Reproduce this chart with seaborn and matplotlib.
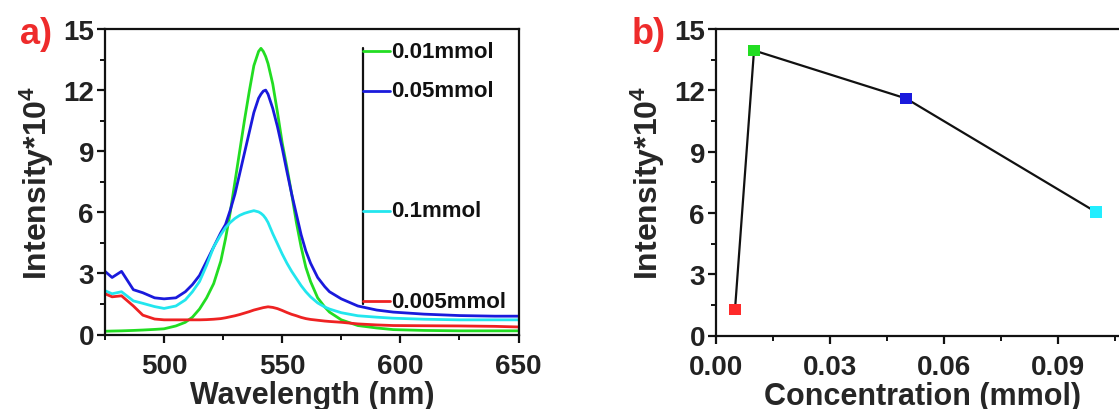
import matplotlib
matplotlib.use("Agg")
import matplotlib.pyplot as plt
from matplotlib.ticker import MultipleLocator
import seaborn as sns
import pandas as pd

# ---------------- data ----------------
wavelength = [475, 478, 482, 487, 491, 496, 500, 505, 509,
              512, 515, 518, 521, 524, 526, 528, 530, 532, 534, 536, 538,
              540, 541, 542, 543, 544, 546, 548, 550,
              552, 554, 556, 558, 560, 562, 565, 568, 570,
              575, 582, 590, 597, 610, 625, 640, 650]
int_001 = [0.16, 0.17, 0.18, 0.20, 0.22, 0.25, 0.28, 0.42, 0.60,
           0.85, 1.25, 1.8, 2.5, 3.6, 4.7, 6.0, 7.5, 9.0, 10.5, 11.9, 13.2,
           13.9, 14.05, 13.9, 13.65, 13.3, 12.3, 10.9, 9.4,
           8.2, 6.9, 5.5, 4.3, 3.3, 2.6, 1.8, 1.35, 1.1,
           0.72, 0.44, 0.32, 0.24, 0.20, 0.18, 0.18, 0.18]
int_005 = [3.1, 2.8, 3.1, 2.2, 2.05, 1.8, 1.75, 1.8, 2.1,
           2.45, 2.9, 3.6, 4.3, 5.0, 5.4, 6.1, 6.9, 7.9, 8.9, 9.9, 10.9,
           11.6, 11.8, 11.95, 12.0, 11.8, 11.1, 10.2, 9.15,
           8.0, 6.9, 5.9, 4.9, 4.1, 3.5, 2.8, 2.35, 2.1,
           1.75, 1.4, 1.2, 1.1, 1.0, 0.93, 0.9, 0.9]
int_01 = [2.15, 2.0, 2.1, 1.65, 1.53, 1.37, 1.28, 1.4, 1.7,
          2.1, 2.6, 3.4, 4.3, 4.9, 5.25, 5.5, 5.7, 5.85, 5.95, 6.02, 6.08,
          6.02, 5.95, 5.85, 5.7, 5.5, 4.95, 4.45, 3.95,
          3.5, 3.1, 2.75, 2.4, 2.1, 1.85, 1.55, 1.35, 1.25,
          1.07, 0.92, 0.85, 0.8, 0.75, 0.72, 0.72, 0.72]
int_0005 = [2.0, 1.85, 1.9, 1.4, 0.95, 0.76, 0.72, 0.72, 0.72,
            0.72, 0.72, 0.73, 0.75, 0.78, 0.82, 0.87, 0.92, 0.98, 1.05, 1.12, 1.2,
            1.26, 1.29, 1.32, 1.34, 1.36, 1.33, 1.27, 1.18,
            1.08, 0.99, 0.92, 0.84, 0.78, 0.74, 0.70, 0.66, 0.64,
            0.60, 0.52, 0.47, 0.44, 0.43, 0.42, 0.40, 0.37]

series_labels = ["0.01mmol", "0.05mmol", "0.1mmol", "0.005mmol"]
series_colors = ["#22dd22", "#1a1adc", "#22e6ee", "#ee2222"]
legend_levels = [13.9, 11.98, 6.07, 1.64]

concentration = [0.005, 0.01, 0.05, 0.1]
peak_intensity = [1.27, 13.95, 11.6, 6.04]
point_labels = ["0.005mmol", "0.01mmol", "0.05mmol", "0.1mmol"]
point_colors = ["#ff2a2a", "#22dd22", "#1a1adc", "#22eeff"]

# ---------------- style ----------------
sns.set_theme(style="ticks")
plt.rcParams["font.family"] = ["Liberation Sans", "DejaVu Sans"]
plt.rcParams["font.weight"] = "bold"
plt.rcParams["axes.labelweight"] = "bold"
plt.rcParams["mathtext.fontset"] = "custom"
plt.rcParams["mathtext.rm"] = "Liberation Sans:bold"
plt.rcParams["mathtext.it"] = "Liberation Sans:bold"
plt.rcParams["mathtext.bf"] = "Liberation Sans:bold"

TICK_FS = 20
LAB_FS = 22
YLAB_FS = 23
W, H = 1119, 410

fig = plt.figure(figsize=(W / 100, H / 100), dpi=100)
axA = fig.add_axes([105 / W, 1 - 335.5 / H, (518.5 - 105) / W, (335.5 - 30) / H])
axB = fig.add_axes([716 / W, 1 - 336.5 / H, (1128 - 716) / W, (336.5 - 30) / H])

# ---------------- panel a ----------------
df = pd.DataFrame({
    "Wavelength": wavelength * 4,
    "Intensity": int_001 + int_005 + int_01 + int_0005,
    "Series": sum([[s] * len(wavelength) for s in series_labels], []),
})
sns.lineplot(data=df, x="Wavelength", y="Intensity", hue="Series",
             palette=dict(zip(series_labels, series_colors)), ax=axA,
             linewidth=2.0, legend=False, sort=False)

axA.set_xlim(475, 650)
axA.set_ylim(0, 15)
axA.xaxis.set_major_locator(MultipleLocator(50))
axA.xaxis.set_minor_locator(MultipleLocator(25))
axA.yaxis.set_major_locator(MultipleLocator(3))
axA.yaxis.set_minor_locator(MultipleLocator(1.5))
axA.set_xlabel("Wavelength (nm)", fontsize=LAB_FS, fontweight="bold", labelpad=1)
axA.set_ylabel("Intensity*10$^{4}$", fontsize=YLAB_FS, fontweight="bold", labelpad=5)

# Origin-style legend with vertical bar
axA.plot([584.4, 584.4], [1.48, 14.07], color="#111111", lw=1.6)
for lab, col, lev in zip(series_labels, series_colors, legend_levels):
    axA.plot([584.4, 595.5], [lev, lev], color=col, lw=2.0)
    axA.text(596.3, lev, lab, fontsize=16, fontweight="bold", va="center", ha="left",
             color="#111111")

# ---------------- panel b ----------------
dfb = pd.DataFrame({"Concentration": concentration, "Intensity": peak_intensity,
                    "Label": point_labels})
sns.lineplot(data=dfb, x="Concentration", y="Intensity", color="#111111", lw=1.6,
             ax=axB, sort=False)
sns.scatterplot(data=dfb, x="Concentration", y="Intensity", hue="Label",
                palette=dict(zip(point_labels, point_colors)), marker="s", s=65,
                edgecolor="none", ax=axB, legend=False, zorder=5)
axB.set_xlim(0, 0.1084)
axB.set_ylim(0, 15)
axB.xaxis.set_major_locator(MultipleLocator(0.03))
axB.xaxis.set_minor_locator(MultipleLocator(0.015))
axB.yaxis.set_major_locator(MultipleLocator(3))
axB.yaxis.set_minor_locator(MultipleLocator(1.5))
axB.xaxis.set_major_formatter(plt.FuncFormatter(lambda v, p: f"{v:.2f}"))
axB.set_xlabel("Concentration (mmol)", fontsize=LAB_FS, fontweight="bold", labelpad=1)
axB.set_ylabel("Intensity*10$^{4}$", fontsize=YLAB_FS, fontweight="bold", labelpad=5)
axB.spines["right"].set_visible(False)

for ax in (axA, axB):
    for sp in ax.spines.values():
        sp.set_linewidth(1.6)
        sp.set_color("#111111")
    ax.tick_params(axis="both", which="major", direction="out", length=6, width=1.6,
                   labelsize=TICK_FS, pad=2, color="#111111", labelcolor="#222222")
    ax.tick_params(axis="x", which="major", pad=7)
    ax.tick_params(axis="both", which="minor", direction="out", length=3.5, width=1.4,
                   color="#111111")
    for t in ax.get_xticklabels() + ax.get_yticklabels():
        t.set_fontweight("bold")
    ax.set_facecolor("none")

fig.text(20 / W, 1 - 35 / H, "a)", color="#ee2b2b", fontsize=26, fontweight="bold",
         va="center", ha="left")
fig.text(632 / W, 1 - 35 / H, "b)", color="#ee2b2b", fontsize=26, fontweight="bold",
         va="center", ha="left")

fig.savefig("out.png", dpi=100)
